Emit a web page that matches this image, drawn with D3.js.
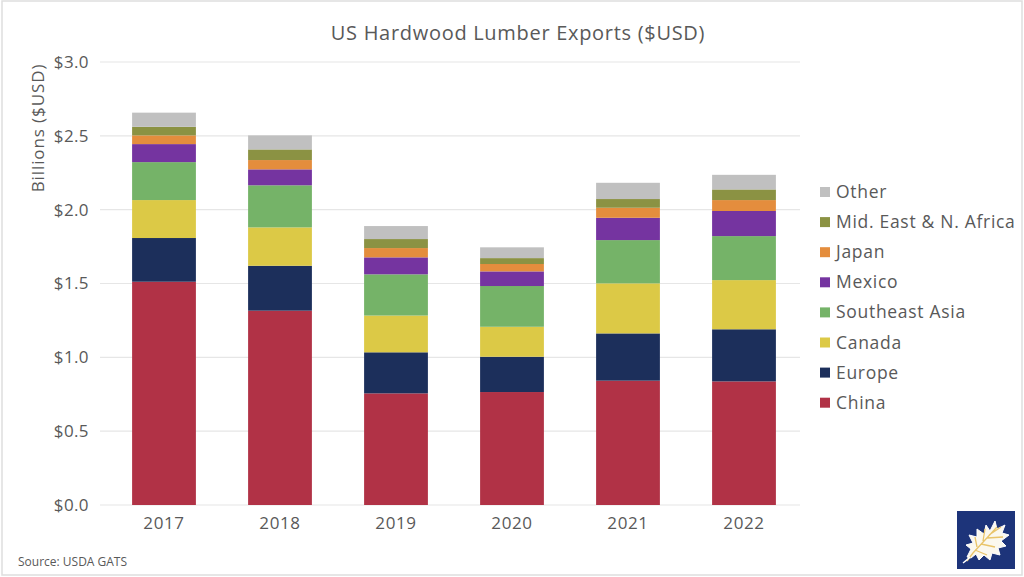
<!DOCTYPE html>
<html><head><meta charset="utf-8">
<script src="https://cdn.jsdelivr.net/npm/d3@7"></script>
<style>body{margin:0;background:#fff;}svg{display:block;font-family:"Open Sans",sans-serif;}</style>
</head><body><svg id="c" width="1024" height="577"></svg>
<script>
const years = ["2017","2018","2019","2020","2021","2022"];
const seriesNames = ["China","Europe","Canada","Southeast Asia","Mexico","Japan","Mid. East & N. Africa","Other"];
const china  = [1.512,1.316,0.756,0.765,0.842,0.837];
const europe = [0.296,0.304,0.278,0.239,0.320,0.353];
const canada = [0.257,0.260,0.249,0.203,0.339,0.333];
const seAsia = [0.257,0.285,0.279,0.276,0.293,0.298];
const mexico = [0.122,0.108,0.115,0.099,0.151,0.170];
const japan  = [0.059,0.063,0.063,0.050,0.068,0.074];
const mena   = [0.058,0.072,0.061,0.040,0.059,0.072];
const other  = [0.096,0.095,0.088,0.073,0.110,0.099];
const yTicks = [0,0.5,1.0,1.5,2.0,2.5,3.0];
const colors = ["#b13246","#1c2f5b","#dcc946","#75b368","#7534a0","#e48d3d","#8b9243","#c0c0c0"];

const seriesVals = [china,europe,canada,seAsia,mexico,japan,mena,other];
const table = years.map((y,i)=>{const o={year:y};seriesNames.forEach((n,k)=>o[n]=seriesVals[k][i]);return o;});

const svg = d3.select("#c");
const textCol = "#595959";
svg.append("rect").attr("x",2).attr("y",1).attr("width",1020).attr("height",574)
  .attr("fill","none").attr("stroke","#dedede").attr("stroke-width",1.5);

const m = {l:106,r:802,t:62,b:505};
const x = d3.scaleBand().domain(years).range([m.l,m.r]).paddingInner(0.45).paddingOuter(0.225);
const y = d3.scaleLinear().domain([0,3]).range([m.b,m.t]);

svg.append("g").selectAll("line").data(yTicks).join("line")
  .attr("x1",100).attr("x2",800).attr("y1",d=>y(d)).attr("y2",d=>y(d))
  .attr("stroke","#e6e6e6").attr("stroke-width",1.2);

const stack = d3.stack().keys(seriesNames)(table);
svg.append("g").selectAll("g").data(stack).join("g").attr("fill",(d,i)=>colors[i])
  .selectAll("rect").data(d=>d).join("rect")
  .attr("x",d=>x(d.data.year)).attr("width",x.bandwidth())
  .attr("y",d=>y(d[1])).attr("height",d=>y(d[0])-y(d[1]));

const yAx = svg.append("g").attr("transform","translate(89,0)")
  .call(d3.axisLeft(y).tickValues(yTicks).tickSize(0).tickPadding(0).tickFormat(d=>"$"+d3.format(".1f")(d)));
yAx.select(".domain").remove();
yAx.selectAll("text").attr("fill",textCol).attr("font-size",17).attr("letter-spacing",0.4).attr("font-family","'Open Sans',sans-serif");

const xAx = svg.append("g").attr("transform",`translate(0,${m.b})`)
  .call(d3.axisBottom(x).tickSize(0).tickPadding(12));
xAx.select(".domain").remove();
xAx.selectAll("text").attr("fill",textCol).attr("font-size",17).attr("letter-spacing",0.6).attr("font-family","'Open Sans',sans-serif");

svg.append("text").attr("x",518).attr("y",40).attr("text-anchor","middle")
  .attr("fill",textCol).attr("font-size",20).attr("letter-spacing",0.7).text("US Hardwood Lumber Exports ($USD)");
svg.append("text").attr("transform","translate(44,128) rotate(-90)").attr("text-anchor","middle")
  .attr("fill",textCol).attr("font-size",17).attr("letter-spacing",0.9).text("Billions ($USD)");
svg.append("text").attr("x",18).attr("y",566).attr("fill",textCol).attr("font-size",12).text("Source: USDA GATS");

const leg = svg.append("g");
const legItems = seriesNames.map((n,i)=>({n,c:colors[i]})).reverse();
legItems.forEach((d,i)=>{
  const cy = 192 + i*30.1;
  leg.append("rect").attr("x",820).attr("y",cy-5).attr("width",10).attr("height",10).attr("fill",d.c);
  leg.append("text").attr("x",836).attr("y",cy+6).attr("fill",textCol).attr("font-size",17.5).attr("letter-spacing",0.7).text(d.n);
});

const lg = svg.append("g").attr("transform","translate(957,511)");
lg.append("rect").attr("width",58).attr("height",58).attr("fill","#1d347a");
lg.append("path").attr("d","M10,46 L14,38 L9,34 L16,32 L12,24 L20,26 L20,18 L27,23 L29,14 L33,20 L38,10 L40,18 L48,14 L45,22 L52,24 L44,30 L49,35 L41,37 L43,44 L35,42 L33,49 L27,44 L22,49 L19,43 L14,47 Z")
  .attr("fill","#fbf8ee").attr("stroke","#ffffff").attr("stroke-width",1);
lg.append("path").attr("d","M10,50 L16,42 L40,16 M20,36 L18,26 M26,30 L28,18 M32,24 L44,16 M24,33 L38,36 M30,27 L46,26 M18,39 L30,44")
  .attr("fill","none").attr("stroke","#e9c46a").attr("stroke-width",1.3);
lg.append("path").attr("d","M6,52 Q10,49 13,46").attr("stroke","#fff").attr("stroke-width",1.5).attr("fill","none");
</script></body></html>
